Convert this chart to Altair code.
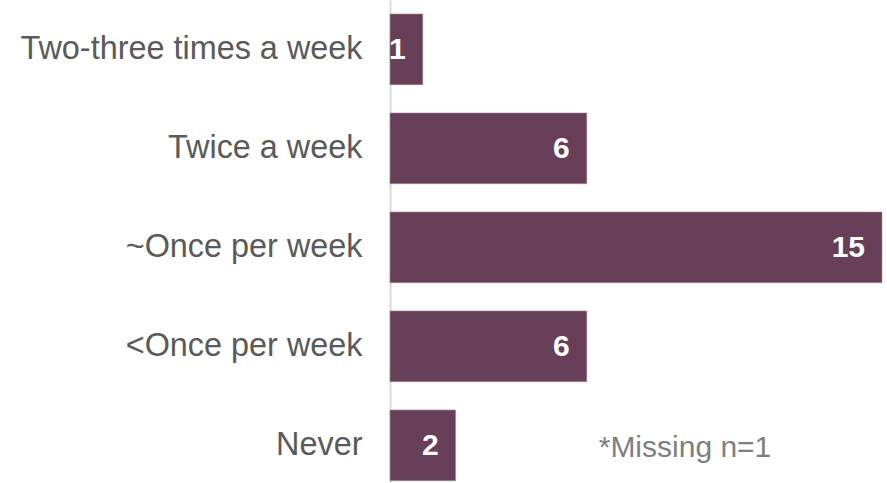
import altair as alt
import pandas as pd

categories = ["Two-three times a week", "Twice a week", "~Once per week", "<Once per week", "Never"]
counts = [1, 6, 15, 6, 2]
note_text = "*Missing n=1"

df = pd.DataFrame({"cat": categories, "n": counts})

BAR = "#673F58"
FONT = "Arial, Liberation Sans, sans-serif"

y_enc = alt.Y(
    "cat:N",
    sort=categories,
    scale=alt.Scale(paddingInner=0.285, paddingOuter=0.082, align=0.86),
    axis=alt.Axis(
        title=None,
        ticks=False,
        tickSize=0,
        grid=False,
        domain=True,
        domainColor="#D9D9D9",
        domainWidth=2,
        labelFont=FONT,
        labelFontSize=32.4,
        labelColor="#5A5A5A",
        labelPadding=28,
        labelLimit=400,
    ),
)
x_enc = alt.X("n:Q", scale=alt.Scale(domain=[0, 15], nice=False, zero=True), axis=None)

bars = alt.Chart(df).mark_bar(color=BAR, stroke="#A88A9C", strokeWidth=0.6).encode(x=x_enc, y=y_enc)

labels = alt.Chart(df).mark_text(
    align="right", baseline="middle", dx=-17, dy=1,
    font=FONT, fontSize=30, fontWeight="bold", color="white",
).encode(x=x_enc, y=y_enc, text="n:Q")

note = alt.Chart(pd.DataFrame({"t": [note_text]})).mark_text(
    align="center", baseline="middle", font=FONT, fontSize=30, color="#7F7F7F",
).encode(x=alt.value(295), y=alt.value(448), text="t:N")

chart = alt.layer(bars, labels, note).properties(
    width=492,
    height=483,
    autosize=alt.AutoSizeParams(type="none"),
    padding={"left": 390, "top": 0, "right": 5, "bottom": 0},
).configure(background="white").configure_view(stroke=None, strokeWidth=0)

chart.save("out.html", embed_options={"renderer": "svg", "actions": False})
